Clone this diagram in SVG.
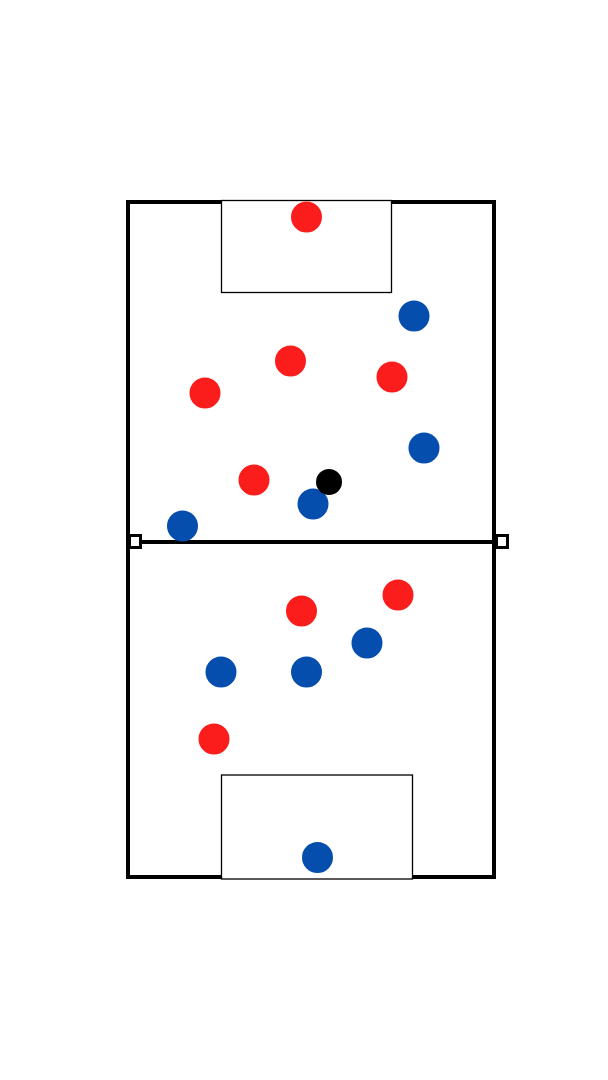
<svg xmlns="http://www.w3.org/2000/svg" width="608" height="1080" viewBox="0 0 608 1080">
<style>
.field{fill:none;stroke:#000;stroke-width:4;stroke-linecap:square}
.box{fill:#fff;stroke:#000;stroke-width:1.3}
.mark{fill:#fff;stroke:#000;stroke-width:3}
.red{fill:#fb1c1c}
.blue{fill:#064ead}
.ball{fill:#000}
</style>
<rect width="608" height="1080" fill="#fff"/>
<g id="field">
<rect class="field" x="128" y="202" width="366" height="675"/>
<line class="field" x1="128" y1="542" x2="494" y2="542"/>
</g>
<g id="top-goal-box"><rect class="box" x="221.5" y="200.5" width="170" height="92"/></g>
<g id="bottom-goal-box"><rect class="box" x="221.5" y="775" width="191" height="104"/></g>
<g id="mid-marker-left"><rect class="mark" x="129.5" y="535.5" width="11" height="12"/></g>
<g id="mid-marker-right"><rect class="mark" x="496.5" y="535.5" width="11" height="12"/></g>
<g id="red-team">
<circle class="red" cx="306.5" cy="217" r="15.5"/>
<circle class="red" cx="290.5" cy="361" r="15.5"/>
<circle class="red" cx="205" cy="393" r="15.5"/>
<circle class="red" cx="392" cy="377" r="15.5"/>
<circle class="red" cx="254" cy="480" r="15.5"/>
<circle class="red" cx="301.5" cy="611" r="15.5"/>
<circle class="red" cx="398" cy="595" r="15.5"/>
<circle class="red" cx="214" cy="739" r="15.5"/>
</g>
<g id="blue-team">
<circle class="blue" cx="414" cy="316" r="15.5"/>
<circle class="blue" cx="424" cy="448" r="15.5"/>
<circle class="blue" cx="313" cy="504" r="15.5"/>
<circle class="blue" cx="182.5" cy="526" r="15.5"/>
<circle class="blue" cx="367" cy="643" r="15.5"/>
<circle class="blue" cx="221" cy="672" r="15.5"/>
<circle class="blue" cx="306.5" cy="672" r="15.5"/>
<circle class="blue" cx="317.5" cy="857.5" r="15.5"/>
</g>
<g id="ball"><circle class="ball" cx="329" cy="482" r="13"/></g>
</svg>
